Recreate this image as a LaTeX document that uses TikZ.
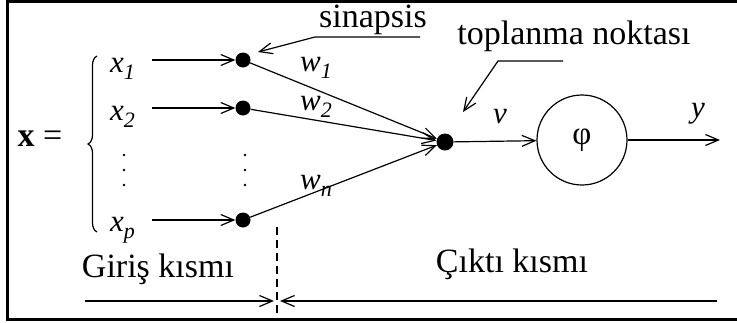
\documentclass[tikz,border=0pt]{standalone}
\usepackage{fontspec}
\setmainfont{Liberation Serif}
\usetikzlibrary{arrows.meta,decorations.pathreplacing}
\newcommand\sbx[2]{#1\raisebox{-7pt}{\fontsize{22}{26}\selectfont #2}}
\begin{document}
\begin{tikzpicture}[x=1pt,y=-1pt,
  txt/.style={font=\fontsize{34}{40}\selectfont, inner sep=0pt},
  lab/.style={font=\fontsize{31}{36}\selectfont\itshape, inner sep=0pt},
  syn/.style={circle, fill=black, minimum size=15pt, inner sep=0pt},
  arr/.style={line width=1.2pt, -{Straight Barb[length=13pt,width=11pt]}},
  ln/.style={line width=1.2pt},
  vdot/.style={circle, fill=black, minimum size=2.8pt, inner sep=0pt}]
\useasboundingbox (0,0) rectangle (737,322);
\draw[line width=3pt] (740,1.5) -- (7,1.5) -- (7,319.5) -- (740,319.5);
% input side
\node[txt, anchor=base] (xeq) at (40,146) {\textbf{x} =};
\draw[ln, decorate, decoration={brace, amplitude=9pt}] (97,232) -- (97,56);
\node[lab, anchor=base west] (xl1) at (110,72) {\sbx{x}{1}};
\node[lab, anchor=base west] (xl2) at (110,120) {\sbx{x}{2}};
\node[lab, anchor=base west] (xlp) at (110,231) {\sbx{x}{p}};
\node[vdot] (d1) at (124,155) {};
\node[vdot] (d2) at (124,170) {};
\node[vdot] (d3) at (124,185) {};
\node[vdot] (d4) at (245,155) {};
\node[vdot] (d5) at (245,170) {};
\node[vdot] (d6) at (245,185) {};
\node[syn] (s1) at (243,60) {};
\node[syn] (s2) at (243,108) {};
\node[syn] (sp) at (243,220) {};
\coordinate (a1) at (152,60);
\coordinate (a2) at (152,108);
\coordinate (ap) at (152,220);
\draw[arr] (a1) -- (s1);
\draw[arr] (a2) -- (s2);
\draw[arr] (ap) -- (sp);
% weights
\node[lab, anchor=base west] (w1) at (300,71) {\sbx{w}{1}};
\node[lab, anchor=base west] (w2) at (300,110) {\sbx{w}{2}};
\node[lab, anchor=base west] (wn) at (300,189) {\sbx{w}{n}};
% summation and activation
\node[syn, minimum size=17pt] (sum) at (445,142) {};
\draw[arr] (s1) -- (sum);
\draw[arr] (s2) -- (sum);
\draw[arr] (sp) -- (sum);
\node[circle, draw, line width=1.2pt, minimum size=90pt, inner sep=0pt,
      font=\fontsize{33}{36}\selectfont] (phi) at (582,140) {φ};
\draw[arr] (sum) -- (phi);
\coordinate (out) at (720,140);
\draw[arr] (phi) -- (out);
\node[lab, anchor=base] (v) at (500,123) {v};
\node[lab, anchor=base] (y) at (698,117) {y};
% pointers
\node[txt, anchor=base] (sin) at (373,27) {sinapsis};
\coordinate (sa) at (420,37);
\coordinate (sb) at (315,37);
\coordinate (sc) at (258,52);
\draw[arr] (sa) -- (sb) -- (sc);
\node[txt, anchor=base] (top) at (574,44) {toplanma noktası};
\coordinate (ta) at (563,61);
\coordinate (tb) at (498,61);
\coordinate (tc) at (463,112);
\draw[arr] (ta) -- (tb) -- (tc);
% bottom
\node[txt, anchor=base] (gir) at (158,277) {Giriş kısmı};
\node[txt, anchor=base] (cik) at (512,272) {Çıktı kısmı};
\coordinate (da) at (277,227);
\coordinate (db) at (277,318);
\draw[ln, dash pattern=on 8pt off 5pt] (da) -- (db);
\coordinate (la) at (85,301);
\coordinate (lb) at (274,301);
\coordinate (ra) at (717,301);
\coordinate (rb) at (280,301);
\draw[arr] (la) -- (lb);
\draw[arr] (ra) -- (rb);
\end{tikzpicture}
\end{document}
